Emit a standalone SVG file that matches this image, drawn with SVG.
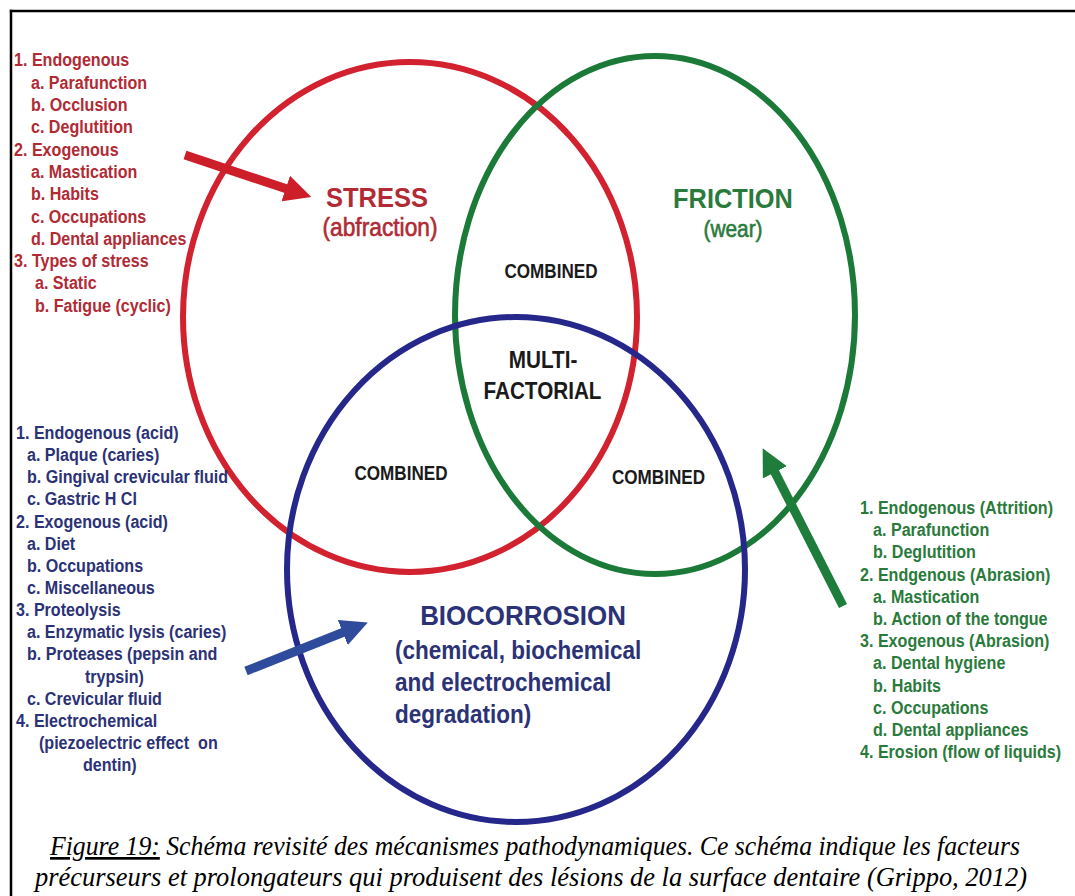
<svg xmlns="http://www.w3.org/2000/svg" width="1075" height="896" viewBox="0 0 1075 896">
<defs>
<style>
.lst{font-family:"Liberation Sans",Arial,sans-serif;font-weight:bold;font-size:18.5px}
.rt{fill:#b12a34}
.bt{fill:#2b3276}
.gt{fill:#2a7a3c}
.ct{fill:#1a1a1a;font-family:"Liberation Sans",Arial,sans-serif;font-weight:bold;text-anchor:middle}
.hd{font-family:"Liberation Sans",Arial,sans-serif;text-anchor:middle}
.sub{stroke-width:0.6}
.ell{fill:none;stroke-width:6}
.arr{fill:none;stroke-width:9;stroke-linecap:butt}
.cap{font-family:"Liberation Serif","Times New Roman",serif;font-style:italic;font-size:27px;fill:#000}
</style>
<marker id="ahR" viewBox="0 0 10 10" refX="0.5" refY="5" markerWidth="3" markerHeight="3" orient="auto" markerUnits="strokeWidth"><path d="M0,0 L10,5 L0,10 z" fill="#cc1f2a"/></marker>
<marker id="ahG" viewBox="0 0 10 10" refX="0.5" refY="5" markerWidth="3" markerHeight="3" orient="auto" markerUnits="strokeWidth"><path d="M0,0 L10,5 L0,10 z" fill="#1f7d3c"/></marker>
<marker id="ahB" viewBox="0 0 10 10" refX="0.5" refY="5" markerWidth="3" markerHeight="3" orient="auto" markerUnits="strokeWidth"><path d="M0,0 L10,5 L0,10 z" fill="#2f4c9c"/></marker>
</defs>
<rect x="0" y="0" width="1075" height="896" fill="#fff"/>
<g id="frame" stroke="#000" stroke-width="2.5">
<line x1="9.8" y1="11" x2="1075" y2="11"/>
<line x1="11" y1="9.8" x2="11" y2="896"/>
</g>

<g id="stress-circle"><ellipse class="ell" cx="410" cy="317" rx="227" ry="255" stroke="#d2212f"/></g>
<g id="friction-circle"><ellipse class="ell" cx="655" cy="315" rx="200" ry="259" stroke="#1b7a38"/></g>
<g id="biocorrosion-circle"><ellipse class="ell" cx="516" cy="569.5" rx="229" ry="252.5" stroke="#25288a"/></g>

<g id="connectors">
<line class="arr" x1="185" y1="155" x2="287" y2="189" stroke="#cc1f2a" marker-end="url(#ahR)"/>
<line class="arr" x1="843" y1="606" x2="774.3" y2="471.1" stroke="#1f7d3c" marker-end="url(#ahG)"/>
<line class="arr" x1="246" y1="671" x2="344" y2="632" stroke="#2f4c9c" marker-end="url(#ahB)"/>
</g>

<g id="stress-factors" class="lst rt" transform="translate(14,0) scale(0.87,1)">
<text x="0" y="66.5">1. Endogenous</text>
<text x="19.5" y="88.8">a. Parafunction</text>
<text x="19.5" y="111.1">b. Occlusion</text>
<text x="19.5" y="133.4">c. Deglutition</text>
<text x="0" y="155.7">2. Exogenous</text>
<text x="19.5" y="178">a. Mastication</text>
<text x="19.5" y="200.3">b. Habits</text>
<text x="19.5" y="222.6">c. Occupations</text>
<text x="19.5" y="244.9">d. Dental appliances</text>
<text x="0" y="267.2">3. Types of stress</text>
<text x="24.1" y="289.5">a. Static</text>
<text x="24.1" y="311.8">b. Fatigue (cyclic)</text>
</g>

<g id="biocorrosion-factors" class="lst bt" transform="translate(16,0) scale(0.87,1)">
<text x="0" y="439">1. Endogenous (acid)</text>
<text x="12.6" y="461.2">a. Plaque (caries)</text>
<text x="12.6" y="483.3">b. Gingival crevicular fluid</text>
<text x="12.6" y="505.5">c. Gastric H Cl</text>
<text x="0" y="527.6">2. Exogenous (acid)</text>
<text x="12.6" y="549.8">a. Diet</text>
<text x="12.6" y="571.9">b. Occupations</text>
<text x="12.6" y="594.1">c. Miscellaneous</text>
<text x="0" y="616.2">3. Proteolysis</text>
<text x="12.6" y="638.4">a. Enzymatic lysis (caries)</text>
<text x="12.6" y="660.5">b. Proteases (pepsin and</text>
<text x="79.3" y="682.7">trypsin)</text>
<text x="12.6" y="704.8">c. Crevicular fluid</text>
<text x="0" y="727">4. Electrochemical</text>
<text x="26.4" y="749.1" xml:space="preserve">(piezoelectric effect  on</text>
<text x="77" y="771.3">dentin)</text>
</g>

<g id="friction-factors" class="lst gt" transform="translate(860,0) scale(0.87,1)">
<text x="0" y="514">1. Endogenous (Attrition)</text>
<text x="15" y="536.2">a. Parafunction</text>
<text x="15" y="558.4">b. Deglutition</text>
<text x="0" y="580.6">2. Endgenous (Abrasion)</text>
<text x="15" y="602.8">a. Mastication</text>
<text x="15" y="625">b. Action of the tongue</text>
<text x="0" y="647.2">3. Exogenous (Abrasion)</text>
<text x="15" y="669.4">a. Dental hygiene</text>
<text x="15" y="691.6">b. Habits</text>
<text x="15" y="713.8">c. Occupations</text>
<text x="15" y="736">d. Dental appliances</text>
<text x="0" y="758.2">4. Erosion (flow of liquids)</text>
</g>

<g id="stress-label" class="hd rt">
<g transform="translate(377,0) scale(0.945,1)"><text x="0" y="207" font-size="27" font-weight="bold">STRESS</text></g>
<g transform="translate(380,0) scale(0.91,1)"><text class="sub" x="0" y="236" font-size="25" stroke="#b12a34">(abfraction)</text></g>
</g>

<g id="friction-label" class="hd gt">
<g transform="translate(733,0) scale(0.94,1)"><text x="0" y="208" font-size="27" font-weight="bold">FRICTION</text></g>
<g transform="translate(733,0) scale(0.87,1)"><text class="sub" x="0" y="237" font-size="24" stroke="#2a7a3c">(wear)</text></g>
</g>

<g id="combined-top"><g transform="translate(551,0) scale(0.815,1)"><text class="ct" x="0" y="278" font-size="21">COMBINED</text></g></g>
<g id="multifactorial">
<g transform="translate(543,0) scale(0.9,1)"><text class="ct" x="0" y="368" font-size="23">MULTI-</text></g>
<g transform="translate(542.5,0) scale(0.9,1)"><text class="ct" x="0" y="399" font-size="23">FACTORIAL</text></g>
</g>
<g id="combined-left"><g transform="translate(401,0) scale(0.815,1)"><text class="ct" x="0" y="480" font-size="21">COMBINED</text></g></g>
<g id="combined-right"><g transform="translate(658.5,0) scale(0.815,1)"><text class="ct" x="0" y="484" font-size="21">COMBINED</text></g></g>

<g id="biocorrosion-label" class="bt">
<g transform="translate(523,0) scale(0.925,1)"><text class="hd" x="0" y="625" font-size="28" font-weight="bold">BIOCORROSION</text></g>
<g transform="translate(395,0) scale(0.9,1)" font-family="Liberation Sans, Arial, sans-serif" font-weight="bold" font-size="25">
<text x="0" y="659">(chemical, biochemical</text>
<text x="0" y="691">and electrochemical</text>
<text x="0" y="723">degradation)</text>
</g>
</g>

<g id="caption">
<text class="cap" x="50" y="855" textLength="970" lengthAdjust="spacingAndGlyphs"><tspan text-decoration="underline">Figure 19:</tspan> Schéma revisité des mécanismes pathodynamiques. Ce schéma indique les facteurs</text>
<text class="cap" x="35" y="886" textLength="992" lengthAdjust="spacingAndGlyphs">précurseurs et prolongateurs qui produisent des lésions de la surface dentaire (Grippo, 2012)</text>
</g>
</svg>
